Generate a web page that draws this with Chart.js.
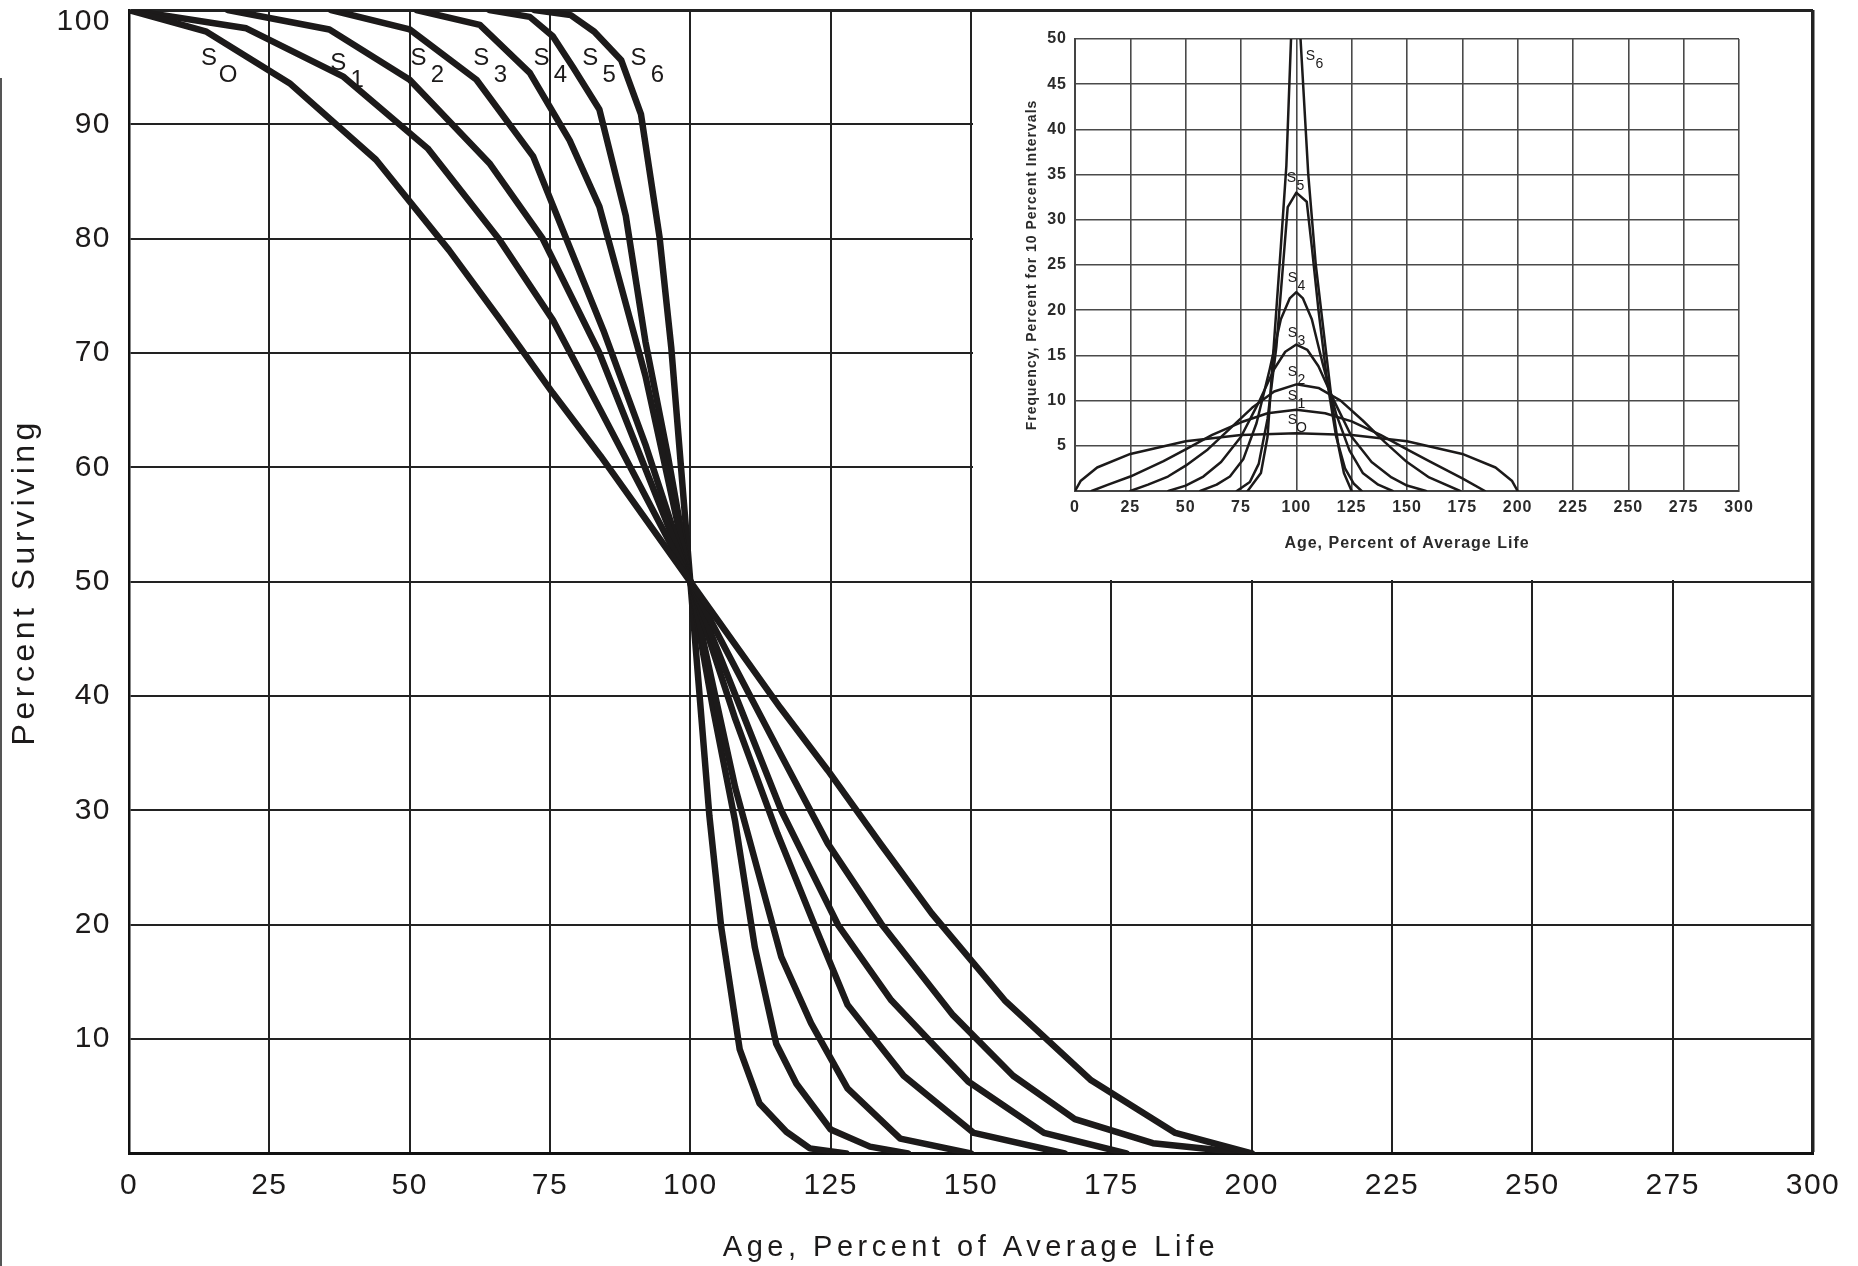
<!DOCTYPE html>
<html>
<head>
<meta charset="utf-8">
<script src="https://cdn.jsdelivr.net/npm/chart.js@4.4.1/dist/chart.umd.min.js"></script>
<style>
  html, body { margin: 0; padding: 0; background: #fff; }
  #wrap { position: relative; width: 1858px; height: 1266px; overflow: hidden; background: #fff; }
  #mainChart { position: absolute; left: 0; top: 0; }
  #insetChart { position: absolute; left: 973px; top: 12px; background: #fff; }
  #edge { position: absolute; left: 0; top: 78px; width: 2px; height: 1188px; background: #555; }
</style>
</head>
<body>
<div id="wrap">
  <div id="edge"></div>
  <canvas id="mainChart" width="1858" height="1266"></canvas>
  <canvas id="insetChart" width="838" height="568"></canvas>
</div>
<script>
// survivor curves, age in percent of average life -> percent surviving
const s0Age = [0, 13.8, 28.6, 44, 57, 66, 75.5, 84, 100, 116, 124.5, 134, 143, 156, 171.4, 186.4, 200];
const s0Pct = [100, 98.1, 93.6, 86.9, 79, 73, 66.5, 61, 50, 39, 33.5, 27, 21, 13.4, 6.4, 1.8, 0];
const s1Age = [0, 20.9, 38.1, 53.2, 66, 75.5, 84, 100, 116, 124.5, 134, 146.8, 157.5, 168.5, 182.4, 200];
const s1Pct = [100, 98.4, 94.2, 87.9, 79.9, 72.9, 65, 50, 35, 27.1, 20.1, 12.1, 6.8, 3, 0.9, 0];
const s2Age = [17.6, 35.7, 50, 64.2, 73.7, 83.8, 100, 116.2, 126.3, 135.8, 149.5, 163, 177.7];
const s2Pct = [100, 98.3, 93.9, 86.6, 80, 70, 50, 30, 20, 13.4, 6.3, 1.8, 0];
const s3Age = [36, 50, 61.9, 72, 77.9, 84.5, 92, 100, 108, 115.5, 122.1, 128, 138, 150.5, 166.7];
const s3Pct = [100, 98.3, 93.9, 87.2, 80, 72, 62, 50, 38, 28, 20, 13, 6.8, 1.8, 0];
const s4Age = [51.2, 62.5, 71.4, 78.5, 83.8, 92, 100, 108, 116.2, 121.5, 128, 137.4, 150];
const s4Pct = [100, 98.7, 94.5, 88.6, 82.8, 68, 50, 32, 17.2, 11.4, 5.7, 1.3, 0];
const s5Age = [64.2, 71.4, 75.5, 79.1, 83.8, 88.5, 92, 96, 100, 104, 108, 111.5, 115.3, 118.9, 125, 132, 138.8];
const s5Pct = [100, 99.4, 97.7, 95, 91.3, 82, 71, 61, 50, 39, 29, 18, 9.6, 6.1, 2.1, 0.6, 0];
const s6Age = [72.2, 78.7, 82.9, 87.7, 91.2, 94.5, 96.6, 100, 103.4, 105.5, 108.8, 112.3, 117.1, 121.3, 127.8];
const s6Pct = [100, 99.55, 98.1, 95.6, 90.9, 80.2, 70.5, 50, 29.5, 19.8, 9.1, 4.4, 1.9, 0.45, 0];

// frequency curves for the inset, percent for 10 percent intervals
const f0Age = [0, 2.5, 10, 25, 50, 75, 100, 125, 150, 175, 190, 197.5, 200];
const f0Val = [0, 1.1, 2.6, 4.1, 5.5, 6.2, 6.4, 6.2, 5.5, 4.1, 2.6, 1.1, 0];
const f1Age = [7.5, 15, 25, 40, 50, 62, 75, 87, 100, 113, 125, 138, 150, 160, 175, 185.2];
const f1Val = [0, 0.7, 1.6, 3.3, 4.6, 6.2, 7.6, 8.6, 9.0, 8.6, 7.7, 6.2, 4.6, 3.3, 1.4, 0];
const f2Age = [25, 33, 42, 50, 60, 70, 80, 90, 100, 110, 120, 130, 140, 150, 160, 174];
const f2Val = [0, 0.7, 1.6, 2.8, 4.6, 6.9, 9.2, 11.0, 11.8, 11.4, 10, 7.8, 5.4, 3.2, 1.5, 0];
const f3Age = [42.2, 50, 58, 66, 75, 83, 90, 95, 100, 105, 110, 117, 125, 134, 143, 150, 158.6];
const f3Val = [0, 0.6, 1.6, 3.2, 6, 9.8, 13.5, 15.4, 16.2, 15.6, 13.8, 10, 6, 3.2, 1.5, 0.6, 0];
const f4Age = [56.6, 64, 70, 76, 82, 88, 93, 97, 100, 103, 107, 112, 118, 124, 130, 137, 143.5];
const f4Val = [0, 0.7, 1.6, 3.5, 7.5, 13.5, 19, 21.3, 22, 21.3, 19, 14, 8.5, 4.5, 2, 0.7, 0];
const f5Age = [73.1, 79, 83, 87, 91, 94, 96.1, 100, 104.7, 107, 110, 114, 118, 122, 126, 129.5];
const f5Val = [0, 1, 3, 8, 16, 25, 31.4, 33, 32, 27, 20, 12, 6, 2.5, 0.8, 0];
const f6Age = [78, 84, 87, 89.5, 93, 95.5, 97.6, 100, 101.9, 105.4, 108.8, 113.6, 116, 119, 121.5, 125];
const f6Val = [0, 2, 6, 15, 27, 36, 50, 58, 50, 35, 25, 15, 10, 5, 2, 0];

const subText = ["O", "1", "2", "3", "4", "5", "6"];
const xTicks = [0, 25, 50, 75, 100, 125, 150, 175, 200, 225, 250, 275, 300];

// where the curve names sit, in data units
const mainLabelAge = [14.4, 37.4, 51.7, 62.9, 73.6, 82.3, 90.9];
const mainLabelPct = [95.8, 95.3, 95.8, 95.8, 95.8, 95.8, 95.8];
const insetLabelAge = [98.5, 98.5, 98.5, 98.5, 98.5, 98, 106.6];
const insetLabelVal = [7.8, 10.5, 13.1, 17.5, 23.5, 34.6, 48.1];

const FONT = '"Liberation Sans", Arial, Helvetica, sans-serif';
const INK = '#1c1a1a';

function pairs(xs, ys) {
    return xs.map((v, i) => ({ x: v, y: ys[i] }));
}

// titles are drawn with the grid (before the datasets), tick labels after them
const spacing = {
    id: 'spacing',
    beforeDraw(chart, args, opts) {
        chart.ctx.letterSpacing = opts.title + 'px';
    },
    beforeDatasetsDraw(chart, args, opts) {
        chart.ctx.letterSpacing = opts.ticks + 'px';
    }
};

const curveLabels = {
    id: 'curveLabels',
    afterDatasetsDraw(chart, args, opts) {
        const ctx = chart.ctx;
        const x = chart.scales.x, y = chart.scales.y;
        ctx.save();
        ctx.fillStyle = INK;
        ctx.textAlign = 'center';
        ctx.textBaseline = 'middle';
        ctx.font = opts.size + 'px ' + FONT;
        opts.ages.forEach((a, i) => {
            const px = x.getPixelForValue(a);
            const py = y.getPixelForValue(opts.vals[i]);
            ctx.fillText('S', px, py);
            ctx.fillText(subText[i], px + opts.dx, py + opts.dy);
        });
        ctx.restore();
    }
};

function lineSet(xs, ys, width) {
    return {
        data: pairs(xs, ys),
        borderColor: INK,
        borderWidth: width,
        pointRadius: 0,
        tension: 0,
        fill: false,
        borderJoinStyle: 'round',
        borderCapStyle: 'round'
    };
}

new Chart(document.getElementById('mainChart'), {
    type: 'line',
    data: {
        datasets: [
            lineSet(s0Age, s0Pct, 6.5),
            lineSet(s1Age, s1Pct, 6.5),
            lineSet(s2Age, s2Pct, 6.5),
            lineSet(s3Age, s3Pct, 6.5),
            lineSet(s4Age, s4Pct, 6.5),
            lineSet(s5Age, s5Pct, 6.5),
            lineSet(s6Age, s6Pct, 6.5)
        ]
    },
    options: {
        responsive: false,
        animation: false,
        devicePixelRatio: 1,
        events: [],
        layout: { padding: { top: 10, right: 45, left: 0, bottom: 0 } },
        plugins: {
            legend: { display: false },
            tooltip: { enabled: false },
            spacing: { title: 4.5, ticks: 1.5 },
            curveLabels: { ages: mainLabelAge, vals: mainLabelPct, size: 24, dx: 19, dy: 17 }
        },
        scales: {
            x: {
                type: 'linear',
                min: 0,
                max: 300,
                afterBuildTicks: s => { s.ticks = xTicks.map(v => ({ value: v })); },
                afterFit: s => { s.height = 112.5; s.paddingLeft = 0; s.paddingRight = 0; },
                ticks: { z: 1, color: INK, font: { family: FONT, size: 30 }, padding: 14, maxRotation: 0, autoSkip: false },
                grid: {
                    color: '#222',
                    lineWidth: c => (c.tick && c.tick.value === 300 ? 3.5 : 2),
                    drawTicks: false
                },
                border: { display: true, color: '#111', width: 3 },
                title: {
                    display: true,
                    text: 'Age, Percent of Average Life',
                    color: INK,
                    font: { family: FONT, size: 29 },
                    padding: { top: 0, bottom: 1 }
                }
            },
            y: {
                type: 'linear',
                min: 0,
                max: 100,
                afterFit: s => { s.width = 129; s.paddingTop = 0; s.paddingBottom = 0; },
                ticks: {
                    z: 1,
                    stepSize: 10,
                    color: INK,
                    font: c => ({ family: FONT, size: 30, lineHeight: c.tick && c.tick.value === 100 ? 0.78 : 1.2 }),
                    padding: 18,
                    callback: v => (v === 0 ? '' : v === 100 ? ['', '100'] : v)
                },
                grid: {
                    color: '#222',
                    lineWidth: c => (c.tick && c.tick.value === 100 ? 3 : 2),
                    drawTicks: false
                },
                border: { display: true, color: '#111', width: 2.5 },
                title: {
                    display: true,
                    text: 'Percent Surviving',
                    color: INK,
                    font: { family: FONT, size: 32 },
                    padding: { top: 6, bottom: 0 }
                }
            }
        }
    },
    plugins: [spacing, curveLabels]
});

new Chart(document.getElementById('insetChart'), {
    type: 'line',
    data: {
        datasets: [
            lineSet(f0Age, f0Val, 2.5),
            lineSet(f1Age, f1Val, 2.5),
            lineSet(f2Age, f2Val, 2.5),
            lineSet(f3Age, f3Val, 2.5),
            lineSet(f4Age, f4Val, 2.5),
            lineSet(f5Age, f5Val, 2.5),
            lineSet(f6Age, f6Val, 2.5)
        ]
    },
    options: {
        responsive: false,
        animation: false,
        devicePixelRatio: 1,
        events: [],
        layout: { padding: { top: 27, right: 72, left: 0, bottom: 0 } },
        plugins: {
            legend: { display: false },
            tooltip: { enabled: false },
            spacing: { title: 1, ticks: 1 },
            curveLabels: { ages: insetLabelAge, vals: insetLabelVal, size: 14, dx: 9, dy: 8 }
        },
        scales: {
            x: {
                type: 'linear',
                min: 0,
                max: 300,
                afterBuildTicks: s => { s.ticks = xTicks.map(v => ({ value: v })); },
                afterFit: s => { s.height = 89; s.paddingLeft = 0; s.paddingRight = 0; },
                ticks: { z: 1, color: '#2a2a2a', font: { family: FONT, size: 16, weight: 'bold' }, padding: 7, maxRotation: 0, autoSkip: false },
                grid: { color: '#4a4a4a', lineWidth: 1.6, drawTicks: false },
                border: { display: true, color: '#444', width: 2 },
                title: {
                    display: true,
                    text: 'Age, Percent of Average Life',
                    color: '#2a2a2a',
                    font: { family: FONT, size: 16, weight: 'bold' },
                    padding: { top: 0, bottom: 27 }
                }
            },
            y: {
                type: 'linear',
                min: 0,
                max: 50,
                afterFit: s => { s.width = 102; s.paddingTop = 0; s.paddingBottom = 0; },
                ticks: {
                    z: 1,
                    stepSize: 5,
                    color: '#2a2a2a',
                    font: { family: FONT, size: 16, weight: 'bold' },
                    padding: 8,
                    callback: v => (v === 0 ? '' : v)
                },
                grid: { color: '#4a4a4a', lineWidth: 1.6, drawTicks: false },
                border: { display: true, color: '#444', width: 2 },
                title: {
                    display: true,
                    text: 'Frequency, Percent for 10 Percent Intervals',
                    color: '#2a2a2a',
                    font: { family: FONT, size: 14, weight: 'bold' },
                    padding: { top: 51, bottom: 0 }
                }
            }
        }
    },
    plugins: [spacing, curveLabels]
});
</script>
</body>
</html>
